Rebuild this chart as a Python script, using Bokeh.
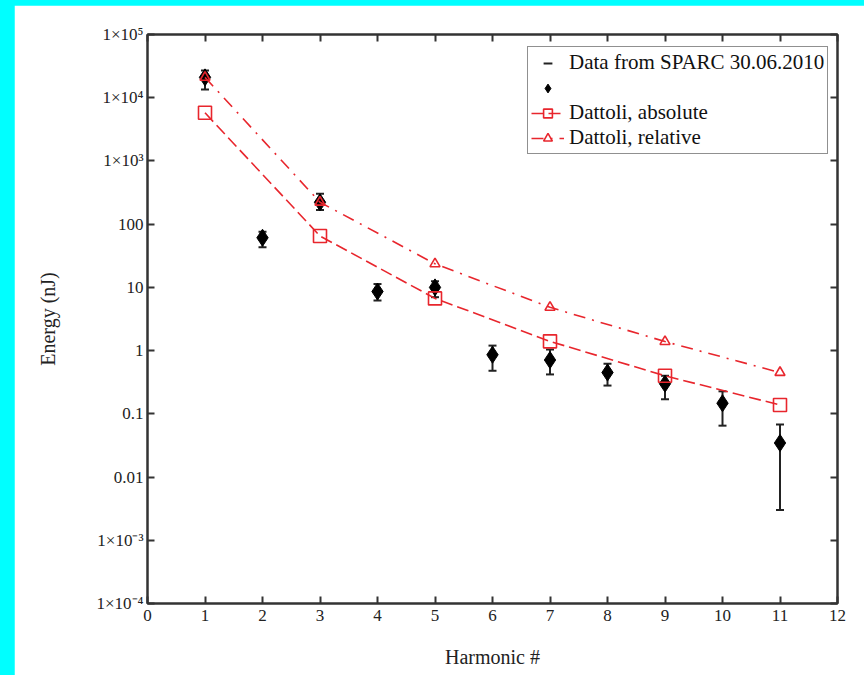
from bokeh.plotting import figure
from bokeh.models import (FixedTicker, LogAxis, LinearAxis, Legend, LegendItem,
                          Whisker, TeeHead, ColumnDataSource, CustomJSTickFormatter, Range1d)
from bokeh.embed import file_html
from bokeh.resources import INLINE
import math
import re

# ---- data ----
harmonic = [1, 2, 3, 4, 5, 6, 7, 8, 9, 10, 11]
energy = [21000, 61, 222, 8.6, 10, 0.86, 0.71, 0.45, 0.30, 0.147, 0.0346]
err_upper = [27000, 76, 302, 11.3, 12.5, 1.2, 1.04, 0.62, 0.40, 0.227, 0.068]
err_lower = [13500, 43, 168, 6.2, 7.0, 0.48, 0.42, 0.28, 0.17, 0.065, 0.003]

dattoli_h = [1, 3, 5, 7, 9, 11]
dattoli_abs = [5770, 65, 6.7, 1.40, 0.40, 0.138]
dattoli_rel = [21000, 222, 23.6, 4.84, 1.39, 0.45]

x_ticks = [0, 1, 2, 3, 4, 5, 6, 7, 8, 9, 10, 11, 12]
y_ticks = [1e-4, 1e-3, 0.01, 0.1, 1, 10, 100, 1e3, 1e4, 1e5]
y_tick_labels = ["1×10⁻⁴", "1×10⁻³", "0.01", "0.1", "1", "10", "100",
                 "1×10³", "1×10⁴", "1×10⁵"]

RED = "#e8262d"
AX = "#333333"
FONT = "Liberation Serif"

p = figure(width=850, height=670, y_axis_type="log",
           x_range=Range1d(0, 12), y_range=Range1d(1e-4, 1e5),
           output_backend="svg", toolbar_location=None,
           min_border_left=133, min_border_right=27,
           min_border_top=29, min_border_bottom=72,
           background_fill_color="white", border_fill_color="white")
p.grid.visible = False
p.outline_line_color = AX
p.outline_line_width = 2

exps = [round(math.log10(v)) for v in y_ticks]
yfmt = CustomJSTickFormatter(args=dict(exps=exps, labels=y_tick_labels), code="""
const e = Math.round(Math.log10(tick));
const i = exps.indexOf(e);
return i >= 0 ? labels[i] : "";
""")
empty = CustomJSTickFormatter(code="return '';")

def style_axis(ax):
    ax.axis_line_color = AX
    ax.axis_line_width = 2
    ax.major_tick_line_color = AX
    ax.major_tick_line_width = 2
    ax.major_tick_in = 7
    ax.major_tick_out = 0
    ax.minor_tick_line_color = None
    ax.major_label_text_font = FONT
    ax.major_label_text_font_size = "17px"
    ax.major_label_text_color = "#222222"
    ax.axis_label_text_font = FONT
    ax.axis_label_text_font_size = "20px"
    ax.axis_label_text_font_style = "normal"
    ax.axis_label_text_color = "#222222"

xa = p.xaxis[0]
xa.ticker = FixedTicker(ticks=x_ticks)
xa.axis_label = "Harmonic #"
xa.axis_label_standoff = 22
xa.major_label_standoff = 6
style_axis(xa)

ya = p.yaxis[0]
ya.ticker = FixedTicker(ticks=y_ticks)
ya.formatter = yfmt
ya.axis_label = "Energy (nJ)"
ya.axis_label_standoff = 34
ya.major_label_standoff = 4
style_axis(ya)

top = LinearAxis(ticker=FixedTicker(ticks=x_ticks), formatter=empty)
style_axis(top)
p.add_layout(top, "above")
right = LogAxis(ticker=FixedTicker(ticks=y_ticks), formatter=empty)
style_axis(right)
p.add_layout(right, "right")

src = ColumnDataSource(dict(x=harmonic, y=energy, upper=err_upper, lower=err_lower))
dsrc = ColumnDataSource(dict(x=dattoli_h, ab=dattoli_abs, rel=dattoli_rel))

# error bars
wh = Whisker(source=src, base="x", upper="upper", lower="lower", dimension="height",
             line_color="#222222", line_width=2,
             upper_head=TeeHead(size=8, line_color="#222222", line_width=2),
             lower_head=TeeHead(size=8, line_color="#222222", line_width=2))
p.add_layout(wh)

# legend proxy for the error bars
err_proxy = p.scatter("x", "y", source=src, marker="dash",
                      size=9, line_color="#222222", line_width=2, visible=False)

dia = p.scatter("x", "y", source=src, marker="diamond", size=17,
                fill_color="black", line_color="black")

l_abs = p.line("x", "ab", source=dsrc, line_color=RED, line_width=1.6,
               line_dash="12 5")
s_abs = p.scatter("x", "ab", source=dsrc, marker="square", size=13,
                  fill_color=None, line_color=RED, line_width=1.6)
l_rel = p.line("x", "rel", source=dsrc, line_color=RED, line_width=1.6,
               line_dash="12 7 2 7")
s_rel = p.scatter("x", "rel", source=dsrc, marker="triangle", size=10,
                  fill_color=None, line_color=RED, line_width=1.6)

legend = Legend(items=[
    LegendItem(label="Data from SPARC 30.06.2010", renderers=[err_proxy]),
    LegendItem(label=" ", renderers=[dia]),
    LegendItem(label="Dattoli, absolute", renderers=[l_abs, s_abs]),
    LegendItem(label="Dattoli, relative", renderers=[l_rel, s_rel]),
], location=(380, 449))
legend.border_line_color = "#222222"
legend.border_line_width = 1.5
legend.background_fill_color = "white"
legend.background_fill_alpha = 1
legend.padding = 3
legend.margin = 0
legend.spacing = 0
legend.label_height = 25
legend.glyph_height = 22
legend.glyph_width = 33
legend.label_standoff = 5
legend.label_text_font = FONT
legend.label_text_font_size = "21px"
legend.label_text_color = "#111111"
p.add_layout(legend)

html = file_html(p, INLINE)
style = ("<style>html{background:#00ffff !important;} "
         "body{margin:0 !important;padding:5px 0 0 14px !important;"
         "background:#00ffff !important;}</style>")
html = re.sub(r"</head>", style + "</head>", html, count=1, flags=re.I)
open("out.html", "w").write(html)
